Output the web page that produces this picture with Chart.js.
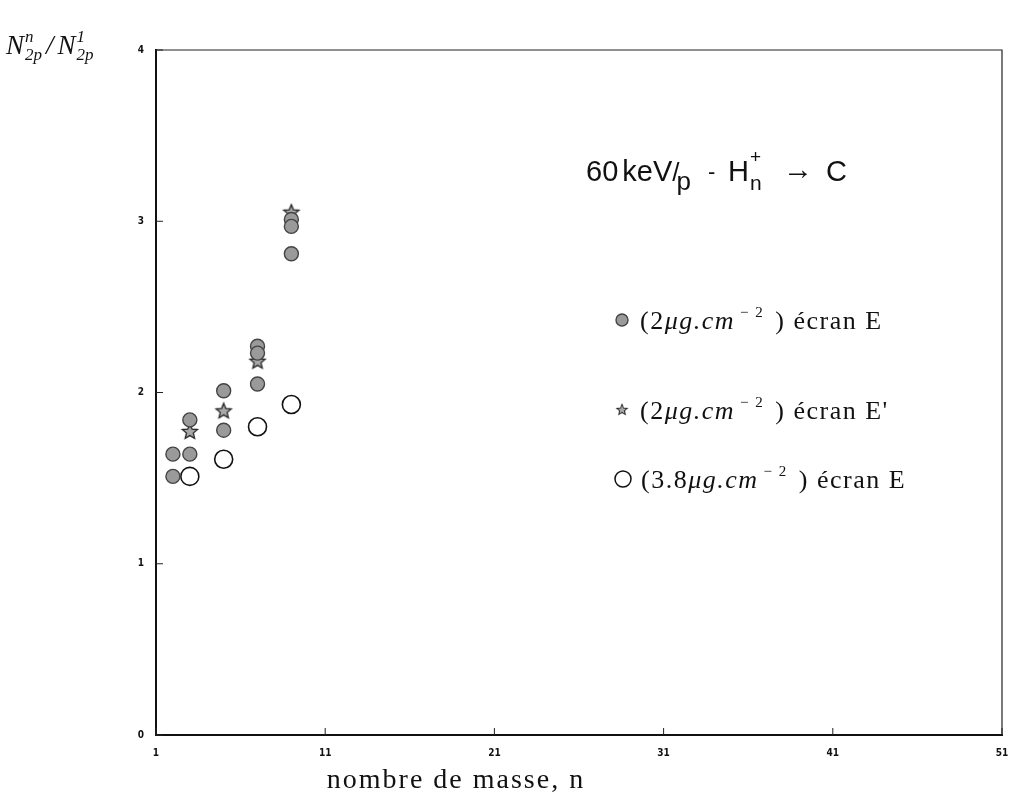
<!DOCTYPE html>
<html>
<head>
<meta charset="utf-8">
<script src="https://cdn.jsdelivr.net/npm/chart.js@4.4.0/dist/chart.umd.min.js"></script>
<style>
body { margin: 0; background: #fff; }
#wrap { width: 1015px; height: 797px; }
</style>
</head>
<body>
<div id="wrap"><canvas id="mychart" width="1015" height="797"></canvas></div>
<script>
var filledN     = [2, 2, 3, 3, 5, 5, 7, 7, 7, 9, 9, 9];
var filledRatio = [1.64, 1.51, 1.84, 1.64, 2.01, 1.78, 2.27, 2.23, 2.05, 3.01, 2.97, 2.81];
var starN     = [3, 5, 7, 9];
var starRatio = [1.77, 1.89, 2.18, 3.05];
var openN     = [3, 5, 7, 9];
var openRatio = [1.51, 1.61, 1.80, 1.93];
var xTicks = [1, 11, 21, 31, 41, 51];
var yTicks = [0, 1, 2, 3, 4];
var legendThick = ['(2', '(2', '(3.8'];
var legendEnd = [' ) écran E', ' ) écran E\'', ' ) écran E'];

function toPoints(xs, ys) {
    var pts = [];
    for (var i = 0; i < xs.length; i++) {
        pts.push({x: xs[i], y: ys[i]});
    }
    return pts;
}

// little 5 branch star, like the one on the scan
function makeStar(r) {
    var c = document.createElement('canvas');
    c.width = c.height = 2 * r + 4;
    var g = c.getContext('2d');
    var cx = r + 2, cy = r + 2;
    g.beginPath();
    for (var i = 0; i < 10; i++) {
        var rr = (i % 2 == 0) ? r : r * 0.45;
        var a = -Math.PI / 2 + i * Math.PI / 5;
        g.lineTo(cx + rr * Math.cos(a), cy + rr * Math.sin(a));
    }
    g.closePath();
    g.fillStyle = '#a8a8a8';
    g.fill();
    g.lineWidth = 1.3;
    g.strokeStyle = '#222';
    g.stroke();
    return c;
}
var starImg = makeStar(8);

// draws a row of text pieces, each with its own font and vertical shift
function drawPieces(ctx, x, y, pieces) {
    for (var i = 0; i < pieces.length; i++) {
        var p = pieces[i];
        ctx.font = p.font;
        ctx.fillText(p.t, x + (p.dx || 0), y + (p.dy || 0));
        if (!p.noAdvance) {
            x += ctx.measureText(p.t).width + (p.dx || 0) + (p.gap || 0);
        }
    }
    return x;
}

var serif = '"Liberation Serif", "DejaVu Serif", serif';
var sans = '"Liberation Sans", Arial, sans-serif';

var decorations = {
    id: 'decorations',
    afterDraw: function (chart) {
        var ctx = chart.ctx;
        var a = chart.chartArea;
        var xs = chart.scales.x, ys = chart.scales.y;
        ctx.save();
        ctx.strokeStyle = '#222';
        ctx.lineWidth = 1.2;
        // top and right side of the frame
        ctx.beginPath();
        ctx.moveTo(a.left, a.top);
        ctx.lineTo(a.right, a.top);
        ctx.lineTo(a.right, a.bottom);
        ctx.stroke();
        // inner ticks
        ctx.lineWidth = 1;
        ctx.beginPath();
        yTicks.forEach(function (v) {
            var py = ys.getPixelForValue(v);
            ctx.moveTo(a.left, py);
            ctx.lineTo(a.left + 7, py);
        });
        xTicks.forEach(function (v) {
            var px = xs.getPixelForValue(v);
            ctx.moveTo(px, a.bottom);
            ctx.lineTo(px, a.bottom - 7);
        });
        ctx.stroke();

        ctx.fillStyle = '#111';
        ctx.textBaseline = 'alphabetic';
        ctx.textAlign = 'left';

        // title inside the frame
        var base = 181;
        drawPieces(ctx, 586, base, [
            {t: '60', font: '29px ' + sans, gap: 4},
            {t: 'keV', font: '29px ' + sans},
            {t: '/', font: '26px ' + sans, gap: -3},
            {t: 'p', font: '26px ' + sans, dy: 9}
        ]);
        ctx.font = '22px ' + sans;
        ctx.fillText('-', 708, base - 2);
        ctx.font = '29px ' + sans;
        ctx.fillText('H', 728, base);
        ctx.font = '21px ' + sans;
        ctx.fillText('n', 750, base + 9);
        ctx.font = '19px ' + sans;
        ctx.fillText('+', 750, base - 18);
        ctx.font = '30px ' + sans;
        ctx.fillText('\u2192', 783, base - 2);
        ctx.font = '29px ' + sans;
        ctx.fillText('C', 826, base);

        // legend
        var rows = [322, 412, 481];
        ctx.save();
        ctx.fillStyle = '#9a9a9a';
        ctx.strokeStyle = '#444';
        ctx.lineWidth = 1.4;
        ctx.beginPath();
        ctx.arc(622, rows[0] - 2, 6, 0, 2 * Math.PI);
        ctx.fill();
        ctx.stroke();
        ctx.drawImage(starImg, 622 - 7, rows[1] - 2 - 7, 14, 14);
        ctx.fillStyle = '#fff';
        ctx.strokeStyle = '#111';
        ctx.lineWidth = 1.5;
        ctx.beginPath();
        ctx.arc(623, rows[2] - 2, 8, 0, 2 * Math.PI);
        ctx.fill();
        ctx.stroke();
        ctx.restore();
        ctx.letterSpacing = '1.5px';
        for (var i = 0; i < 3; i++) {
            drawPieces(ctx, i == 2 ? 641 : 640, rows[i] + 7, [
                {t: legendThick[i], font: '26px ' + serif},
                {t: '\u03bcg.cm', font: 'italic 26px ' + serif, gap: 5},
                {t: '\u2212 2', font: '15px ' + serif, dy: -12, gap: 3},
                {t: legendEnd[i], font: '26px ' + serif}
            ]);
        }

        // y label at the top left
        ctx.letterSpacing = '0px';
        drawPieces(ctx, 6, 54, [
            {t: 'N', font: 'italic 27px ' + serif, gap: 1},
            {t: 'n', font: 'italic 17px ' + serif, dy: -12, noAdvance: true},
            {t: '2p', font: 'italic 17px ' + serif, dy: 6, gap: 4},
            {t: '/', font: 'italic 27px ' + serif, gap: 4},
            {t: 'N', font: 'italic 27px ' + serif, gap: 1},
            {t: '1', font: 'italic 17px ' + serif, dy: -12, noAdvance: true},
            {t: '2p', font: 'italic 17px ' + serif, dy: 6}
        ]);

        // x title
        ctx.letterSpacing = '2px';
        ctx.font = '28px ' + serif;
        ctx.textAlign = 'center';
        ctx.fillText('nombre de masse, n', 456, 788);
        ctx.restore();
    }
};

var ctx = document.getElementById('mychart');
var chart = new Chart(ctx, {
    type: 'scatter',
    data: {
        datasets: [{
            label: '(2\u03bcg.cm-2) écran E',
            data: toPoints(filledN, filledRatio),
            pointStyle: 'circle',
            pointRadius: 7,
            backgroundColor: '#9a9a9a',
            borderColor: '#444',
            borderWidth: 1.4
        }, {
            label: '(2\u03bcg.cm-2) écran E\'',
            data: toPoints(starN, starRatio),
            pointStyle: starImg,
            backgroundColor: '#a8a8a8',
            borderColor: '#222'
        }, {
            label: '(3.8\u03bcg.cm-2) écran E',
            data: toPoints(openN, openRatio),
            pointStyle: 'circle',
            pointRadius: 9,
            backgroundColor: 'rgba(255,255,255,0)',
            borderColor: '#111',
            borderWidth: 1.6
        }]
    },
    options: {
        responsive: false,
        devicePixelRatio: 1,
        animation: false,
        layout: { padding: {left: 0, top: 50, right: 13, bottom: 0} },
        plugins: {
            legend: { display: false },
            tooltip: { enabled: false }
        },
        scales: {
            x: {
                type: 'linear',
                min: 1,
                max: 51,
                afterBuildTicks: function (s) {
                    s.ticks = xTicks.map(function (v) { return {value: v}; });
                },
                afterFit: function (s) { s.height = 62; },
                grid: { display: false },
                border: { display: true, color: '#111', width: 2 },
                ticks: {
                    padding: 4,
                    color: '#111',
                    maxRotation: 0,
                    font: { family: '"DejaVu Sans Condensed", "DejaVu Sans"', size: 10, weight: 'bold' }
                }
            },
            y: {
                type: 'linear',
                min: 0,
                max: 4,
                afterBuildTicks: function (s) {
                    s.ticks = yTicks.map(function (v) { return {value: v}; });
                },
                afterFit: function (s) { s.width = 156; },
                grid: { display: false },
                border: { display: true, color: '#111', width: 2 },
                ticks: {
                    padding: 4,
                    color: '#111',
                    font: { family: '"DejaVu Sans Condensed", "DejaVu Sans"', size: 10, weight: 'bold' }
                }
            }
        }
    },
    plugins: [decorations]
});
</script>
</body>
</html>
